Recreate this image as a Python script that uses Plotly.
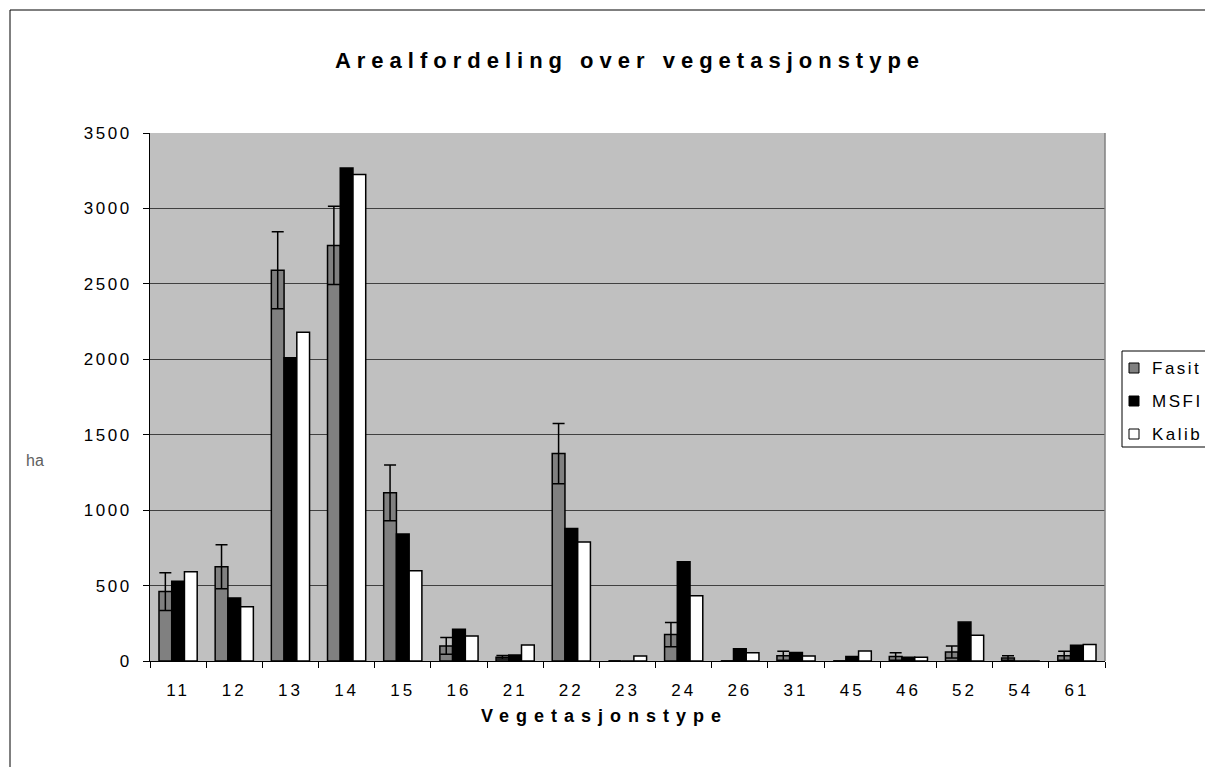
import plotly.graph_objects as go

categories = ["11", "12", "13", "14", "15", "16", "21", "22", "23", "24", "26", "31", "45", "46", "52", "54", "61"]
fasit = [460, 625, 2590, 2755, 1115, 100, 25, 1375, 0, 175, 0, 35, 0, 30, 60, 20, 35]
fasit_err = [125, 146, 255, 260, 185, 55, 12, 200, 0, 80, 0, 30, 0, 25, 40, 15, 30]
msfi = [528, 418, 2010, 3268, 842, 210, 40, 879, 0, 658, 82, 57, 30, 25, 258, 0, 104]
kalib = [592, 360, 2180, 3225, 598, 166, 106, 788, 33, 433, 55, 33, 66, 25, 170, 0, 110]
y_ticks = [0, 500, 1000, 1500, 2000, 2500, 3000, 3500]
series_names = ["Fasit", "MSFI", "Kalib"]
series_colors = ["#808080", "black", "white"]

W, H = 1213, 767
OFF = 8  # page offset of the figure (body margin)
L, R, T, B = 150 - OFF, 108 + OFF, 133 - OFF, 106 + OFF
pw, ph = W - L - R, H - T - B


def px(x):  # page x -> paper
    return (x - OFF - L) / pw


def py(y):  # page y -> paper
    return (H - B - (y - OFF)) / ph


def spaced(s, sp):
    return f"<span style='letter-spacing:{sp}px'>{s}</span>"


font = "Liberation Sans, Arial, sans-serif"

fig = go.Figure()
for name, vals, col in zip(series_names, [fasit, msfi, kalib], series_colors):
    err = dict(type="data", array=fasit_err, visible=True, color="black",
               thickness=1.5, width=6) if name == "Fasit" else None
    fig.add_trace(go.Bar(
        name=name, x=categories, y=vals,
        marker=dict(color=col, line=dict(color="black", width=1.5)),
        error_y=err, showlegend=False,
    ))

fig.update_layout(
    width=W, height=H,
    margin=dict(l=L, r=R, t=T, b=B, autoexpand=False),
    paper_bgcolor="white",
    plot_bgcolor="#C0C0C0",
    barmode="group",
    bargap=0.32,
    bargroupgap=0,
    font=dict(family=font, size=16, color="black"),
    title=dict(text="<b>" + spaced("Arealfordeling over vegetasjonstype", 6) + "</b>",
               x=px(630), xref="paper", xanchor="center",
               y=1 - (60 - OFF) / H, yanchor="middle",
               font=dict(family=font, size=22, color="black")),
    showlegend=False,
)
fig.update_xaxes(
    type="category",
    tickmode="array", tickvals=categories, ticktext=[spaced(c, 3) for c in categories],
    showline=True, linecolor="black", linewidth=1,
    ticks="outside", tickson="boundaries", ticklen=6, tickcolor="black",
    ticklabelstandoff=14,
    tickfont=dict(family=font, size=17),
    showgrid=False,
    automargin=False,
)
fig.update_yaxes(
    range=[0, 3500],
    tickmode="array", tickvals=y_ticks, ticktext=[spaced(str(v), 2.5) for v in y_ticks],
    showline=True, linecolor="black", linewidth=1,
    ticks="outside", ticklen=6, tickcolor="black",
    ticklabelstandoff=8,
    tickfont=dict(family=font, size=17),
    showgrid=True, gridcolor="#404040", gridwidth=1,
    zeroline=False,
    automargin=False,
)
fig.add_annotation(text="<b>" + spaced("Vegetasjonstype", 7) + "</b>",
                   x=px(604), y=py(716), xref="paper", yref="paper",
                   xanchor="center", yanchor="middle", showarrow=False,
                   font=dict(family=font, size=18, color="black"))
fig.add_annotation(text="ha", x=px(24), y=py(460), xref="paper", yref="paper",
                   showarrow=False, font=dict(family=font, size=16, color="#606060"))
# plot area right edge
fig.add_shape(type="line", x0=1, x1=1, y0=0, y1=1, xref="paper", yref="paper",
              line=dict(color="#808080", width=1.5))
# outer chart border
fig.add_shape(type="rect", x0=px(10), x1=px(1225), y0=py(780), y1=py(10),
              xref="paper", yref="paper", line=dict(color="black", width=1), layer="below")

# legend box (drawn manually so it sits at the chart's right edge)
fig.add_shape(type="rect", x0=px(1122), x1=px(1230), y0=py(447), y1=py(351),
              xref="paper", yref="paper", line=dict(color="black", width=1),
              fillcolor="white")
for i, (name, col) in enumerate(zip(series_names, series_colors)):
    yc = 368 + i * 33
    fig.add_shape(type="rect", x0=px(1129), x1=px(1139), y0=py(yc + 5), y1=py(yc - 5),
                  xref="paper", yref="paper", line=dict(color="black", width=1),
                  fillcolor=col)
    fig.add_annotation(text=spaced(name, 2.5), x=px(1150), y=py(yc), xref="paper", yref="paper",
                       xanchor="left", yanchor="middle", showarrow=False,
                       font=dict(family=font, size=17, color="black"))

fig.write_html("out.html")
